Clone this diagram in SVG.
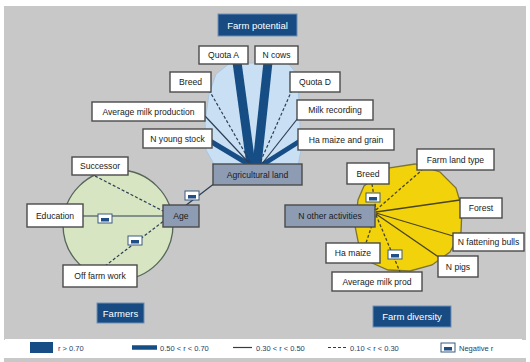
<svg xmlns="http://www.w3.org/2000/svg" width="530" height="362" viewBox="0 0 530 362">
<defs>
<style>
.bx{fill:#fff;stroke:#4a4a4a;stroke-width:1.4}
.gb{fill:#8e9cb3;stroke:#4a4a4a;stroke-width:1.4}
.tb{fill:#174b82;stroke:#6f8fb5;stroke-width:1}
.t{font-family:"Liberation Sans",Arial,sans-serif;font-size:8.6px;fill:#1a1a1a;text-anchor:middle}
.tw{font-family:"Liberation Sans",Arial,sans-serif;font-size:9.5px;fill:#fff;text-anchor:middle}
.lg{font-family:"Liberation Sans",Arial,sans-serif;font-size:7.5px;fill:#1e3d66}
.c1{stroke:#164d85;stroke-width:9;stroke-linecap:butt}
.c2{stroke:#164d85;stroke-width:5;stroke-linecap:butt}
.c3{stroke:#2c3e55;stroke-width:1.2;fill:none}
.c4{stroke:#2c3e55;stroke-width:1.2;stroke-dasharray:3 2;fill:none}
.y3{stroke:#4a4520;stroke-width:1.3;fill:none}
.y4{stroke:#4a4520;stroke-width:1.3;stroke-dasharray:3 2;fill:none}
</style>
<g id="neg">
<rect x="0" y="0" width="14" height="9" fill="#fff" stroke="#3b5a80" stroke-width="1"/>
<rect x="3" y="4" width="8" height="3.5" fill="#1f4f86"/>
</g>
</defs>
<rect x="0" y="0" width="530" height="362" fill="#fff"/>
<rect x="4" y="6" width="522" height="334" fill="#c8c8c8"/>
<rect x="4" y="358" width="522" height="4" fill="#c8c8c8"/>

<g id="areas">
<polygon points="215,166 206,150 205,122 209,94 216,74 230,63 288,63 297,74 299,100 301,150 298,166" fill="#c9dff3" stroke="#a9c6e3" stroke-width="1"/>
<circle cx="118" cy="225" r="55" fill="#d8e5c2" stroke="#55665a" stroke-width="1.3"/>
<polygon points="372,180 388,168 415,164 440,172 456,188 462,208 461,232 450,252 432,265 410,271 388,270 370,262 359,246 355,226 358,200 364,186" fill="#f2d20a" stroke="#7d7430" stroke-width="1.3"/>
</g>

<g id="connectors">
<line class="c1" x1="237" y1="62" x2="251" y2="165"/>
<line class="c1" x1="268" y1="62" x2="257" y2="165"/>
<line class="c2" x1="210" y1="141" x2="250" y2="165"/>
<line class="c2" x1="300" y1="141" x2="262" y2="165"/>
<line class="c4" x1="209" y1="90" x2="252" y2="165"/>
<line class="c3" x1="205" y1="116" x2="251" y2="165"/>
<line class="c4" x1="292" y1="90" x2="259" y2="165"/>
<line class="c3" x1="298" y1="118" x2="261" y2="165"/>
<line class="c3" x1="185" y1="206" x2="215" y2="183"/>
<line class="c4" x1="95" y1="176" x2="165" y2="212"/>
<line class="c3" x1="83" y1="216" x2="163" y2="216"/>
<line class="c4" x1="105" y1="266" x2="165" y2="220"/>
<line class="y4" x1="372" y1="184" x2="376" y2="210"/>
<line class="y4" x1="376" y1="210" x2="422" y2="170"/>
<line class="y3" x1="376" y1="212" x2="460" y2="200"/>
<line class="y3" x1="376" y1="213" x2="453" y2="236"/>
<line class="y3" x1="376" y1="214" x2="440" y2="258"/>
<line class="y4" x1="376" y1="215" x2="400" y2="272"/>
<line class="y4" x1="375" y1="216" x2="366" y2="243"/>
<use href="#neg" x="185" y="191"/>
<use href="#neg" x="98" y="214"/>
<use href="#neg" x="128" y="236"/>
<use href="#neg" x="366" y="193"/>
<use href="#neg" x="388" y="250"/>
</g>

<g id="farm-potential"><rect class="tb" x="218" y="14" width="79" height="22"/><text class="tw" x="257.5" y="28.5">Farm potential</text></g>
<g id="quota-a"><rect class="bx" x="199" y="46" width="49" height="18"/><text class="t" x="223.5" y="58">Quota A</text></g>
<g id="n-cows"><rect class="bx" x="255" y="46" width="43" height="18"/><text class="t" x="276.5" y="58">N cows</text></g>
<g id="breed-1"><rect class="bx" x="170" y="72" width="41" height="20"/><text class="t" x="190.5" y="85">Breed</text></g>
<g id="quota-d"><rect class="bx" x="290" y="72" width="50" height="20"/><text class="t" x="315" y="85">Quota D</text></g>
<g id="avg-milk-production"><rect class="bx" x="92" y="102" width="113" height="19"/><text class="t" x="148.5" y="114.5">Average milk production</text></g>
<g id="milk-recording"><rect class="bx" x="297" y="100" width="76" height="20"/><text class="t" x="335" y="113">Milk recording</text></g>
<g id="n-young-stock"><rect class="bx" x="143" y="129" width="69" height="19"/><text class="t" x="177.5" y="141.5">N young stock</text></g>
<g id="ha-maize-grain"><rect class="bx" x="298" y="129" width="96" height="21"/><text class="t" x="346" y="142.5">Ha maize and grain</text></g>
<g id="agricultural-land"><rect class="gb" x="213" y="164" width="89" height="21"/><text class="t" x="257.5" y="177.5">Agricultural land</text></g>

<g id="successor"><rect class="bx" x="72" y="157" width="56" height="18"/><text class="t" x="100" y="169">Successor</text></g>
<g id="education"><rect class="bx" x="27" y="204" width="56" height="23"/><text class="t" x="55" y="218.5">Education</text></g>
<g id="age"><rect class="gb" x="163" y="205" width="36" height="22"/><text class="t" x="181" y="219">Age</text></g>
<g id="off-farm-work"><rect class="bx" x="63" y="265" width="74" height="22"/><text class="t" x="100" y="279">Off farm work</text></g>
<g id="farmers"><rect class="tb" x="97" y="303" width="47" height="20"/><text class="tw" x="120.5" y="316.5">Farmers</text></g>

<g id="farm-land-type"><rect class="bx" x="417" y="149" width="77" height="21"/><text class="t" x="455.5" y="162.5">Farm land type</text></g>
<g id="breed-2"><rect class="bx" x="347" y="163" width="42" height="21"/><text class="t" x="368" y="176.5">Breed</text></g>
<g id="forest"><rect class="bx" x="460" y="198" width="42" height="20"/><text class="t" x="481" y="211">Forest</text></g>
<g id="n-other-activities"><rect class="gb" x="285" y="205" width="90" height="22"/><text class="t" x="330" y="219">N other activities</text></g>
<g id="n-fattening-bulls"><rect class="bx" x="453" y="233" width="71" height="18"/><text class="t" x="488.5" y="245">N fattening bulls</text></g>
<g id="ha-maize"><rect class="bx" x="326" y="243" width="54" height="20"/><text class="t" x="353" y="256">Ha maize</text></g>
<g id="n-pigs"><rect class="bx" x="438" y="256" width="40" height="21"/><text class="t" x="458" y="269.5">N pigs</text></g>
<g id="avg-milk-prod"><rect class="bx" x="332" y="272" width="90" height="19"/><text class="t" x="377" y="284.5">Average milk prod</text></g>
<g id="farm-diversity"><rect class="tb" x="373" y="306" width="78" height="21"/><text class="tw" x="412" y="320">Farm diversity</text></g>

<g id="legend">
<rect x="5" y="339" width="517" height="19" fill="#fff"/>
<rect x="30" y="342" width="23" height="11" fill="#164d85"/>
<text class="lg" x="58" y="350.5">r &gt; 0.70</text>
<line x1="132" y1="347.5" x2="157" y2="347.5" stroke="#164d85" stroke-width="4.5"/>
<text class="lg" x="160" y="350.5">0.50 &lt; r &lt; 0.70</text>
<line x1="233" y1="347.5" x2="252" y2="347.5" stroke="#2c3e55" stroke-width="1.2"/>
<text class="lg" x="256" y="350.5">0.30 &lt; r &lt; 0.50</text>
<line x1="328" y1="347.5" x2="347" y2="347.5" stroke="#2c3e55" stroke-width="1.2" stroke-dasharray="3 2"/>
<text class="lg" x="350" y="350.5">0.10 &lt; r &lt; 0.30</text>
<use href="#neg" x="441" y="343"/>
<text class="lg" x="459" y="350.5">Negative r</text>
</g>
</svg>
